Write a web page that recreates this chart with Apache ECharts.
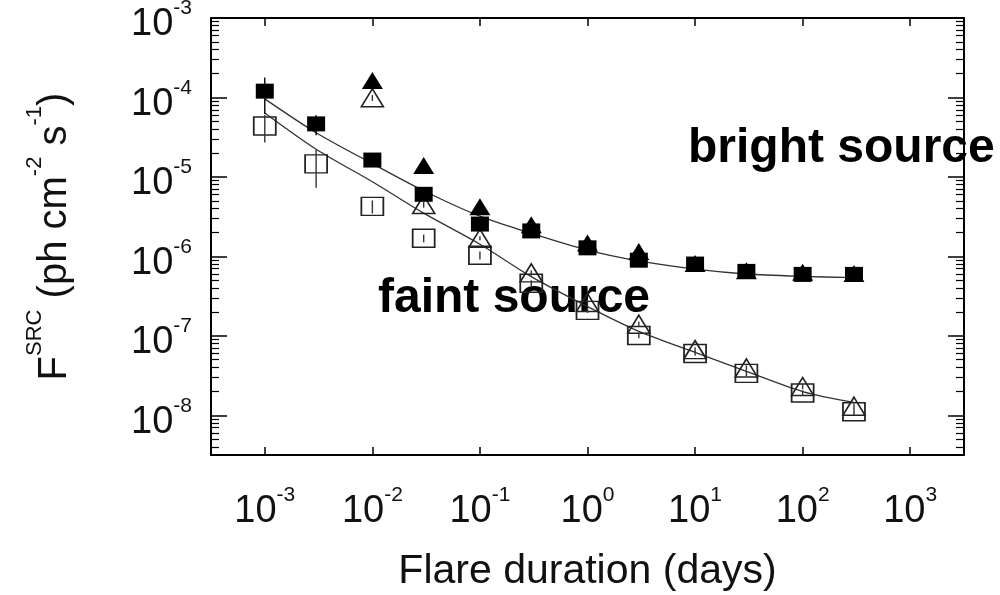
<!DOCTYPE html>
<html>
<head>
<meta charset="utf-8">
<script src="https://cdn.jsdelivr.net/npm/echarts@6/dist/echarts.min.js"></script>
<style>
html,body{margin:0;padding:0;background:#fff;}
#chart{width:1000px;height:595px;}
</style>
</head>
<body>
<div id="chart"></div>
<script>
// ---- data ----
const durations = [0.001, 0.003, 0.01, 0.03, 0.1, 0.3, 1, 3, 10, 30, 100, 300];

const brightSquares    = [1.20e-4, 4.65e-5, 1.63e-5, 6.04e-6, 2.55e-6, 2.09e-6, 1.28e-6, 8.95e-7, 8.0e-7, 6.47e-7, 5.93e-7, 5.93e-7];
const brightSquaresErr = [5.8e-5, 1.3e-5, 8e-7, 3e-7, 1.2e-7, 8e-8, 5e-8, 3e-8, 2e-8, 1.5e-8, 1.2e-8, 1.2e-8];
const brightTriangles  = [null, null, 1.63e-4, 1.39e-5, 4.2e-6, 2.5e-6, 1.47e-6, 1.15e-6, 8.15e-7, 6.6e-7, 6.3e-7, 6.1e-7];
const brightTrianglesErr = [null, null, 8e-6, 5e-7, 1.5e-7, 8e-8, 5e-8, 3e-8, 2e-8, 1.5e-8, 1.2e-8, 1.2e-8];

const faintSquares     = [4.37e-5, 1.46e-5, 4.26e-6, 1.69e-6, 1.03e-6, 4.6e-7, 2.09e-7, 1.01e-7, 6.0e-8, 3.37e-8, 1.91e-8, 1.11e-8];
const faintSquaresErr  = [1.65e-5, 7.3e-6, 8e-7, 1.9e-7, 1.2e-7, 4e-8, 1.5e-8, 8e-9, 4e-9, 2.5e-9, 1.5e-9, 1e-9];
const faintTriangles   = [null, null, 9.9e-5, 4.5e-6, 1.69e-6, 6.2e-7, 2.63e-7, 1.40e-7, 6.7e-8, 3.94e-8, 2.30e-8, 1.30e-8];
const faintTrianglesErr = [null, null, 8.5e-6, 4e-7, 1e-7, 5e-8, 2e-8, 1e-8, 5e-9, 3e-9, 1.8e-9, 1e-9];

const brightFit = [9.6e-5, 3.6e-5, 1.47e-5, 6.7e-6, 3.2e-6, 1.95e-6, 1.2e-6, 8.75e-7, 6.9e-7, 6.0e-7, 5.6e-7, 5.4e-7];
const faintFit  = [6.37e-5, 2.23e-5, 8.7e-6, 3.5e-6, 1.42e-6, 5.56e-7, 2.34e-7, 1.14e-7, 6.2e-8, 3.57e-8, 1.99e-8, 1.45e-8];

const xTickExponents = [-3, -2, -1, 0, 1, 2, 3];
const yTickExponents = [-8, -7, -6, -5, -4, -3];

const xTitle = 'Flare duration (days)';
const yTitleParts = [['b', 'F'], ['s', 'SRC'], ['b', ' (ph cm'], ['s', '-2'], ['b', ' s'], ['s', '-1'], ['b', ')']];
const annotations = [
  { text: 'bright source', x: 688, y: 149 },
  { text: 'faint source',  x: 378, y: 299 }
];

// ---- helpers ----
const FONT = 'Liberation Sans, Arial, Helvetica, sans-serif';
const pairs = (vals) => durations.map((d, i) => vals[i] == null ? null : [d, vals[i]]).filter(Boolean);
const errData = (vals, errs) => durations.map((d, i) => vals[i] == null ? null : [d, vals[i] - errs[i], vals[i] + errs[i]]).filter(Boolean);

function tickFormatter(exps) {
  return function (v) {
    const l = Math.log10(v);
    const e = Math.round(l);
    if (Math.abs(l - e) > 1e-6 || exps.indexOf(e) < 0) return '';
    return '{b|10}{s|' + e + '}';
  };
}
const tickRich = {
  b: { fontSize: 38, fontFamily: FONT, color: '#111', lineHeight: 46, verticalAlign: 'bottom' },
  s: { fontSize: 21, fontFamily: FONT, color: '#111', verticalAlign: 'top' }
};

function errSeries(vals, errs, color) {
  return {
    type: 'custom',
    data: errData(vals, errs),
    z: 5,
    silent: true,
    encode: { x: 0, y: [1, 2] },
    renderItem: function (params, api) {
      const x = api.value(0);
      const lo = api.coord([x, api.value(1)]);
      const hi = api.coord([x, api.value(2)]);
      return { type: 'line', shape: { x1: lo[0], y1: lo[1], x2: hi[0], y2: hi[1] }, style: { stroke: color, lineWidth: 1.4 } };
    }
  };
}

const frameLine = { show: true, onZero: false, lineStyle: { color: '#000', width: 2 } };

const xBase = {
  type: 'log', logBase: 10,
  min: Math.pow(10, -3.5), max: Math.pow(10, 3.5),
  axisLine: frameLine,
  axisTick: { show: true, inside: true, length: 8, lineStyle: { color: '#000', width: 1.5 } },
  minorTick: { show: false },
  splitLine: { show: false },
  minorSplitLine: { show: false }
};
const yBase = {
  type: 'log', logBase: 10,
  min: Math.pow(10, -8.5), max: 1e-3,
  axisLine: frameLine,
  axisTick: { show: true, inside: true, length: 16, lineStyle: { color: '#000', width: 1.5 } },
  minorTick: { show: true, splitNumber: 9, length: 8, lineStyle: { color: '#000', width: 1.2 } },
  splitLine: { show: false },
  minorSplitLine: { show: false }
};

const openStyle = { color: 'rgba(0,0,0,0)', borderColor: '#222', borderWidth: 1.6, opacity: 1 };
const filledStyle = { color: '#000', opacity: 1 };

const chart = echarts.init(document.getElementById('chart'), null, { renderer: 'canvas' });
chart.setOption({
  animation: false,
  backgroundColor: '#fff',
  grid: { left: 211, right: 36, top: 18, bottom: 140, containLabel: false, outerBoundsMode: 'none' },
  xAxis: [
    Object.assign({}, xBase, {
      position: 'bottom',
      axisLabel: { show: true, margin: 30, formatter: tickFormatter(xTickExponents), rich: tickRich, showMinLabel: false, showMaxLabel: false, hideOverlap: false },
      name: xTitle, nameLocation: 'middle', nameGap: 96,
      nameTextStyle: { fontSize: 41, fontFamily: FONT, color: '#111' }
    }),
    Object.assign({}, xBase, { position: 'top', axisLabel: { show: false } })
  ],
  yAxis: [
    Object.assign({}, yBase, {
      position: 'left',
      axisLabel: { show: true, margin: 19, padding: [6, 0, 0, 0], formatter: tickFormatter(yTickExponents), rich: tickRich, showMinLabel: false, showMaxLabel: true, hideOverlap: false },
      name: yTitleParts.map(p => '{' + p[0] + '|' + p[1] + '}').join(''),
      nameLocation: 'middle', nameGap: 136, nameRotate: 90,
      nameTextStyle: {
        fontSize: 40, fontFamily: FONT, color: '#111',
        rich: {
          b: { fontSize: 40, fontFamily: FONT, color: '#111', lineHeight: 51, verticalAlign: 'bottom' },
          s: { fontSize: 22, fontFamily: FONT, color: '#111', verticalAlign: 'top' }
        }
      }
    }),
    Object.assign({}, yBase, { position: 'right', axisLabel: { show: false } })
  ],
  graphic: annotations.map(a => ({
    type: 'text', left: a.x, top: a.y - 24, z: 0,
    style: { text: a.text, font: 'bold 48px ' + FONT, fill: '#000' }
  })),
  series: [
    { type: 'line', data: pairs(brightFit), showSymbol: false, smooth: 0.3, lineStyle: { color: '#333', width: 1.3 }, z: 2, silent: true },
    { type: 'line', data: pairs(faintFit), showSymbol: false, smooth: 0.3, lineStyle: { color: '#333', width: 1.3 }, z: 2, silent: true },
    { type: 'scatter', name: 'faint triangles', data: pairs(faintTriangles), symbol: 'triangle', symbolSize: [22, 18], itemStyle: openStyle, z: 3 },
    { type: 'scatter', name: 'faint squares', data: pairs(faintSquares), symbol: 'rect', symbolSize: [22, 18], itemStyle: openStyle, z: 3 },
    { type: 'scatter', name: 'bright triangles', data: pairs(brightTriangles), symbol: 'triangle', symbolSize: [21, 17], itemStyle: filledStyle, z: 4 },
    { type: 'scatter', name: 'bright squares', data: pairs(brightSquares), symbol: 'rect', symbolSize: [18, 15], itemStyle: filledStyle, z: 4 },
    errSeries(faintSquares, faintSquaresErr, '#333'),
    errSeries(faintTriangles, faintTrianglesErr, '#333'),
    errSeries(brightSquares, brightSquaresErr, '#000'),
    errSeries(brightTriangles, brightTrianglesErr, '#000')
  ]
});
</script>
</body>
</html>
